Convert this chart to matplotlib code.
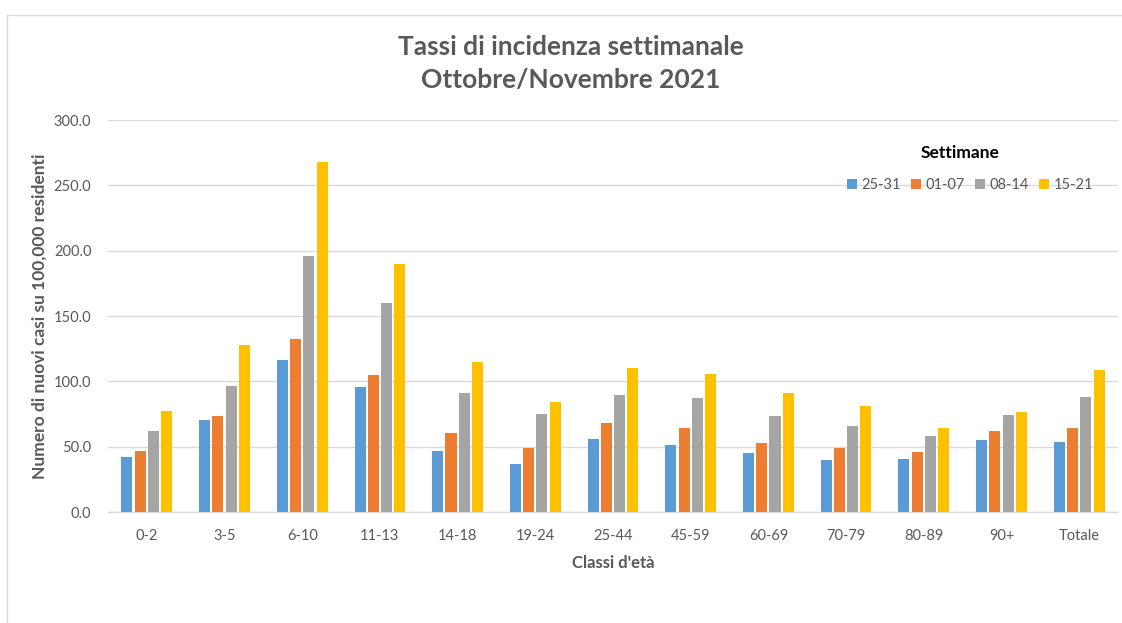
import matplotlib
matplotlib.use("Agg")
import matplotlib.pyplot as plt
import numpy as np
from matplotlib.patches import Rectangle

plt.rcParams["font.family"] = ["Lato", "DejaVu Sans"]

TEXT, GRID, FRAME = "#595959", "#d9d9d9", "#d9d9d9"

categories = ["0-2", "3-5", "6-10", "11-13", "14-18", "19-24", "25-44",
              "45-59", "60-69", "70-79", "80-89", "90+", "Totale"]
weeks = ["25-31", "01-07", "08-14", "15-21"]
colors = ["#5B9BD5", "#ED7D31", "#A5A5A5", "#FFC000"]

w_25_31 = [42.1, 70.7, 116.2, 95.5, 47.0, 37.0, 55.9, 51.6, 44.9, 39.6, 40.3, 55.4, 53.4]
w_01_07 = [46.7, 73.5, 132.2, 104.7, 60.5, 49.0, 67.9, 64.1, 52.6, 49.0, 46.2, 61.8, 64.1]
w_08_14 = [62.0, 96.8, 196.1, 160.1, 91.1, 75.3, 89.4, 87.6, 73.3, 65.9, 58.0, 74.0, 88.3]
w_15_21 = [77.6, 127.9, 268.1, 189.7, 114.6, 84.5, 110.5, 105.4, 90.9, 80.9, 64.6, 76.3, 108.5]
series = [w_25_31, w_01_07, w_08_14, w_15_21]

yticks = [0, 50, 100, 150, 200, 250, 300]

fig = plt.figure(figsize=(11.22, 6.23), dpi=100, facecolor="white")
# chart-area frame (Excel style)
fig.patches.append(Rectangle((7 / 1122, -0.1), 1.2, 1.1 - 15 / 623, transform=fig.transFigure,
                             fill=False, edgecolor=FRAME, lw=1.0))

ax = fig.add_axes([108 / 1122, 1 - 512 / 623, 1010 / 1122, 392 / 623])
x = np.arange(len(categories))
step = 0.1705
for i, (vals, c, lab) in enumerate(zip(series, colors, weeks)):
    ax.bar(x + (i - 1.5) * step, vals, width=0.142, color=c, label=lab, zorder=3)

ax.set_xlim(-0.5, len(categories) - 0.5)
ax.set_ylim(0, 300)
ax.set_yticks(yticks)
ax.set_yticklabels([f"{v:.1f}" for v in yticks])
ax.set_xticks(x)
ax.set_xticklabels(categories)
ax.grid(axis="y", color=GRID, lw=1.0, zorder=0)
for sp in ("top", "right", "left"):
    ax.spines[sp].set_visible(False)
ax.spines["bottom"].set_color(GRID)
ax.spines["bottom"].set_linewidth(1.0)
ax.tick_params(length=0, colors=TEXT, labelsize=10.5)
ax.tick_params(axis="x", pad=12)
ax.tick_params(axis="y", pad=12)

ax.set_xlabel("Classi d'età", fontsize=12, fontweight="bold", color=TEXT, labelpad=9)
fig.text(40 / 1122, 1 - 316 / 623, "Numero di nuovi casi su 100,000 residenti", rotation=90,
         ha="center", va="center", fontsize=12.5, fontweight="bold", color=TEXT)

fig.text(571 / 1122, 1 - 47 / 623, "Tassi di incidenza settimanale", ha="center", va="center",
         fontsize=19, fontweight="bold", color=TEXT)
fig.text(571 / 1122, 1 - 80 / 623, "Ottobre/Novembre 2021", ha="center", va="center",
         fontsize=19, fontweight="bold", color=TEXT)

fig.text(960 / 1122, 1 - 153 / 623, "Settimane", ha="center", va="center",
         fontsize=12.5, fontweight="bold", color="black")
ax.legend(loc="center", bbox_to_anchor=(970 / 1122, 1 - 185 / 623), bbox_transform=fig.transFigure,
          ncol=4, frameon=False, fontsize=10.5, labelcolor=TEXT, handlelength=0.7,
          handleheight=0.7, handletextpad=0.3, columnspacing=0.7)

fig.savefig("out.png", dpi=100, facecolor="white")
